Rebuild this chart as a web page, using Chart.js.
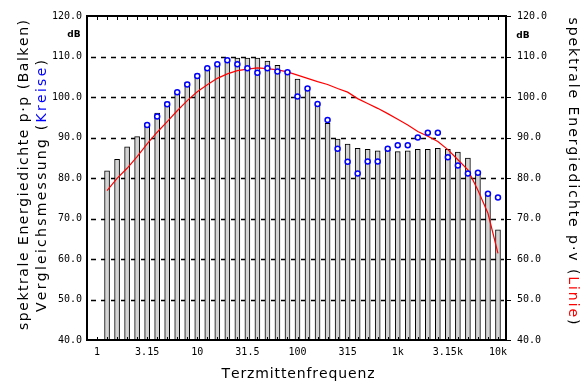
<!DOCTYPE html>
<html>
<head>
<meta charset="utf-8">
<script src="https://cdn.jsdelivr.net/npm/chart.js@4/dist/chart.umd.min.js"></script>
<style>
  html, body { margin: 0; padding: 0; background: #fff; }
  #wrap { width: 584px; height: 381px; position: relative; }
</style>
</head>
<body>
<div id="wrap"><canvas id="c" width="584" height="381"></canvas></div>
<script>
// Third-octave centre frequencies (category index = position on x)
const frequencies = ['1','1.25','1.6','2','2.5','3.15','4','5','6.3','8',
  '10','12.5','16','20','25','31.5','40','50','63','80',
  '100','125','160','200','250','315','400','500','630','800',
  '1k','1.25k','1.6k','2k','2.5k','3.15k','4k','5k','6.3k','8k','10k'];
const tickLabels = ['1','3.15','10','31.5','100','315','1k','3.15k','10k'];
const yTicks = [40,50,60,70,80,90,100,110,120];

// spektrale Energiedichte p·p (Balken), dB
const barValues = [null,81.8,84.6,87.7,90.2,93.5,96.0,98.8,101.3,103.7,
  105.7,107.4,108.4,109.5,109.6,109.6,109.6,108.9,107.8,106.6,
  104.4,102.5,98.4,93.5,89.6,88.4,87.3,87.1,86.7,86.9,
  86.5,86.7,87.1,87.1,87.3,87.1,86.4,84.9,81.1,76.0,67.2];

// Vergleichsmessung (Kreise), dB
const circleValues = [null,null,null,null,null,93.1,95.2,98.2,101.2,103.1,
  105.2,107.1,108.1,109.1,108.1,107.1,106.0,107.1,106.3,106.1,
  100.1,102.1,98.3,94.3,87.2,84.0,81.1,84.1,84.1,87.2,
  88.1,88.1,90.0,91.2,91.2,85.1,83.1,81.1,81.3,76.1,75.2];

// spektrale Energiedichte p·v (Linie), dB
const lineValues = [null,76.9,79.9,82.4,85.3,88.4,91.3,93.9,96.6,99.1,
  101.3,103.0,104.6,105.7,106.5,106.9,107.2,107.0,106.7,106.2,
  105.4,104.6,103.8,103.1,102.1,101.2,99.6,98.4,97.2,95.9,
  94.5,93.1,91.5,90.3,89.0,87.0,84.5,82.0,77.0,71.3,61.4];

const toXY = arr => arr.map((v, i) => v === null ? null : {x: i, y: v}).filter(p => p);

const TICK_FONT = {family: 'DejaVu Sans Mono', size: 10};
const TITLE_FONT = '14px "DejaVu Sans"';

function drawSpaced(ctx, segs, cx, cy, rot, targetLen) {
  ctx.save();
  ctx.translate(cx, cy);
  ctx.rotate(rot);
  ctx.font = TITLE_FONT;
  ctx.textBaseline = 'middle';
  ctx.textAlign = 'left';
  const chars = [];
  segs.forEach(s => { for (const ch of s.t) chars.push({ch, c: s.c, w: ctx.measureText(ch).width}); });
  const natural = chars.reduce((a, b) => a + b.w, 0);
  const extra = (targetLen - natural) / (chars.length - 1);
  let x = -targetLen / 2;
  chars.forEach(o => { ctx.fillStyle = o.c; ctx.fillText(o.ch, x, 0); x += o.w + extra; });
  ctx.restore();
}

const decor = {
  id: 'decor',
  beforeDatasetsDraw(chart) {
    const {ctx, chartArea: a, scales: {y}} = chart;
    ctx.save();
    ctx.strokeStyle = '#000';
    ctx.lineWidth = 1.5;
    ctx.setLineDash([5, 5]);
    yTicks.slice(1, -1).forEach(v => {
      const py = Math.round(y.getPixelForValue(v)) + 0.5;
      ctx.beginPath(); ctx.moveTo(a.left + 5, py); ctx.lineTo(a.right - 3, py); ctx.stroke();
    });
    ctx.restore();
  },
  afterDatasetsDraw(chart) {
    const {ctx, chartArea: a, scales: {x, y}} = chart;
    ctx.save();
    ctx.strokeStyle = '#000';
    ctx.lineWidth = 2;
    ctx.strokeRect(a.left + 1, a.top, a.right - a.left - 2, a.bottom - a.top);
    ctx.lineWidth = 1;
    // inner ticks at each band on top & bottom
    frequencies.forEach((f, i) => {
      const px = Math.round(x.getPixelForValue(i)) + 0.5;
      ctx.beginPath(); ctx.moveTo(px, a.top); ctx.lineTo(px, a.top + 4); ctx.stroke();
      ctx.beginPath(); ctx.moveTo(px, a.bottom); ctx.lineTo(px, a.bottom - 3); ctx.stroke();
    });
    // outer ticks on the right
    yTicks.forEach(v => {
      const py = Math.round(y.getPixelForValue(v)) + 0.5;
      ctx.beginPath(); ctx.moveTo(a.right, py); ctx.lineTo(a.right + 4, py); ctx.stroke();
    });
    // dB units
    ctx.fillStyle = '#000';
    ctx.font = 'bold 9px "DejaVu Sans"';
    ctx.textAlign = 'center';
    ctx.textBaseline = 'middle';
    ctx.fillText('dB', 74, 35);
    ctx.fillText('dB', 523, 36);
    ctx.restore();

    drawSpaced(ctx, [{t: 'spektrale Energiedichte p\u00b7p (Balken)', c: '#000'}], 24, 175, -Math.PI / 2, 310);
    drawSpaced(ctx, [{t: 'Vergleichsmessung (', c: '#000'}, {t: 'Kreise', c: '#0000ff'}, {t: ')', c: '#000'}], 42, 186, -Math.PI / 2, 252);
    drawSpaced(ctx, [{t: 'spektrale Energiedichte p\u00b7v (', c: '#000'}, {t: 'Linie', c: '#ff0000'}, {t: ')', c: '#000'}], 573, 171, Math.PI / 2, 307);
    drawSpaced(ctx, [{t: 'Terzmittenfrequenz', c: '#000'}], 298, 374, 0, 153);
  }
};

new Chart(document.getElementById('c'), {
  data: {
    datasets: [
      {
        type: 'scatter', label: 'Vergleichsmessung', data: toXY(circleValues), order: 1,
        pointStyle: 'circle', pointRadius: 2.5, pointBorderWidth: 1.5,
        borderColor: '#0000ff', backgroundColor: '#ffffff', yAxisID: 'y'
      },
      {
        type: 'line', label: 'p·v', data: toXY(lineValues), order: 2,
        borderColor: '#ff0000', borderWidth: 1.2, pointRadius: 0, tension: 0, fill: false, yAxisID: 'y2'
      },
      {
        type: 'bar', label: 'p·p', data: toXY(barValues), order: 3,
        backgroundColor: '#d4d4d4', borderColor: '#000', borderWidth: 1, borderSkipped: false,
        barThickness: 5, grouped: false, yAxisID: 'y'
      }
    ]
  },
  options: {
    responsive: false,
    animation: false,
    devicePixelRatio: 1,
    layout: {padding: {top: 16, left: 0, right: 0, bottom: 0}},
    plugins: {legend: {display: false}, tooltip: {enabled: false}},
    scales: {
      x: {
        type: 'linear', min: -1.1, max: 40.9, offset: false,
        grid: {display: false, drawTicks: false, offset: false}, border: {display: false},
        afterBuildTicks: s => { s.ticks = tickLabels.map(l => ({value: frequencies.indexOf(l)})); },
        ticks: {
          autoSkip: false, maxRotation: 0, padding: 6, color: '#000', font: TICK_FONT,
          callback: v => frequencies[v]
        },
        afterFit: s => { s.height = 41; }
      },
      y: {
        position: 'left', min: 40, max: 120,
        grid: {display: false, drawTicks: false}, border: {display: false},
        afterBuildTicks: s => { s.ticks = yTicks.map(v => ({value: v})); },
        ticks: {padding: 4, color: '#000', font: TICK_FONT, callback: v => v.toFixed(1)},
        afterFit: s => { s.width = 86; }
      },
      y2: {
        position: 'right', min: 40, max: 120,
        grid: {display: false, drawTicks: false}, border: {display: false},
        afterBuildTicks: s => { s.ticks = yTicks.map(v => ({value: v})); },
        ticks: {padding: 10, color: '#000', font: TICK_FONT, callback: v => v.toFixed(1)},
        afterFit: s => { s.width = 77; }
      }
    }
  },
  plugins: [decor]
});
</script>
</body>
</html>
